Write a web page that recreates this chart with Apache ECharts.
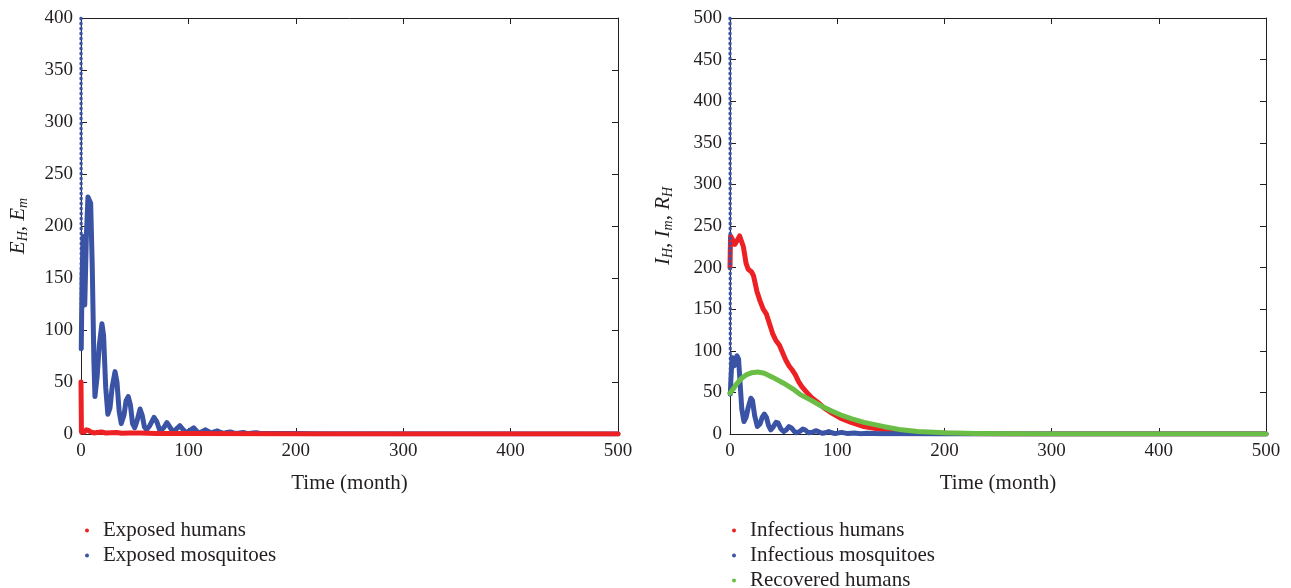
<!DOCTYPE html>
<html>
<head>
<meta charset="utf-8">
<title>Exposed and infectious classes over time</title>
<script src="https://cdn.jsdelivr.net/npm/echarts@6/dist/echarts.min.js"></script>
<style>
  html, body { margin: 0; padding: 0; background: #ffffff; }
  #chart { width: 1291px; height: 588px; }
</style>
</head>
<body>
<div id="chart"></div>
<script>
// ---- Data: [time (month), population] ----
// Left panel: exposed classes
const exposedMosquitoesInitial = [[0, 400], [0.25, 82]];
const exposedMosquitoes = [
  [0.25, 82], [1, 150], [2, 190], [2.8, 160], [3.5, 124], [5, 190], [6.5, 228], [8, 229], [9, 222],
  [10.5, 160], [12, 70], [13, 36], [15, 55], [17, 85], [19.5, 106], [21, 95], [23, 45], [25, 19],
  [27, 25], [29, 45], [31.7, 60], [33.5, 50], [35.5, 22], [37.5, 10], [40, 18], [42, 32], [44, 36],
  [46, 28], [48, 10], [50, 6], [52, 12], [55, 24], [57, 18], [59, 7], [61, 4], [64, 8], [68, 16],
  [70.5, 12], [73.5, 3], [77, 6], [80, 11], [82.5, 7], [85.5, 2], [89, 5], [92, 8], [94.5, 5],
  [97.5, 1.5], [101, 3], [105, 6], [107.5, 3], [110, 1], [113, 2.5], [116, 4], [118.5, 2.5],
  [121, 0.8], [124, 2], [127, 3], [130, 1.5], [133, 0.6], [136, 1.5], [139, 2], [142, 1],
  [145, 0.5], [148, 1], [151, 1.5], [154, 0.8], [157, 0.5], [160, 1], [163, 1.2], [166, 0.7],
  [175, 0.6], [200, 0.5], [220, 0.2], [500, 0]
];
const exposedHumans = [
  [0, 50], [0.4, 2], [1.5, 1], [3, 2], [5, 4], [7, 3.5], [9, 2], [12, 1], [15, 1.5], [19, 2],
  [23, 1], [28, 1.2], [33, 1.5], [38, 0.8], [45, 1], [55, 0.9], [70, 0.6], [100, 0.5],
  [150, 0.3], [200, 0.1], [500, 0]
];

// Right panel: infectious and recovered classes
const infectiousMosquitoesInitial = [[0, 500], [0.3, 48]];
const infectiousMosquitoes = [
  [0.3, 48], [1, 70], [2, 92], [3, 88], [4, 82], [5, 88], [6.5, 94], [8, 90], [9.5, 60], [11, 30],
  [13, 15], [15, 20], [17, 32], [19.5, 43], [21, 40], [23, 22], [25.5, 9], [28, 12], [30, 20],
  [32, 24], [34, 20], [36, 10], [38, 5], [40, 8], [43, 14], [45, 13], [47.5, 6], [50, 3],
  [52.5, 5], [55, 9], [57.5, 7], [60, 3], [62, 1.5], [65, 3], [68, 6], [70.5, 4.5], [73, 1.5],
  [77, 2], [80, 4], [83, 2.5], [86, 0.8], [89, 1.5], [92, 3], [95, 1.5], [98, 0.5], [104, 2],
  [110, 0.5], [116, 1.2], [122, 0.3], [128, 0.8], [140, 0.3], [160, 0.2], [200, 0.1], [500, 0]
];
const infectiousHumans = [
  [0, 200], [0.5, 238], [1.5, 240], [3, 232], [4.5, 228], [6.5, 232], [9, 238], [10.5, 236],
  [12.5, 225], [15, 205], [17, 198], [20, 195], [22, 190], [25, 172], [28, 160], [31, 150],
  [34, 144], [37, 132], [40, 120], [43, 112], [46, 107], [49, 98], [52, 89], [55, 82], [58, 77],
  [61, 71], [64, 63], [67, 57], [71, 51], [76, 44], [82, 38], [88, 31], [95, 25], [103, 19],
  [113, 14], [125, 9], [143, 5], [160, 2.8], [180, 1.3], [210, 0.5], [260, 0.1], [300, 0], [500, 0]
];
const recoveredHumans = [
  [0, 49], [3, 54], [6, 60], [10, 66], [15, 71], [20, 73.5], [26, 74.5], [32, 73], [40, 68],
  [50, 61], [60, 53], [66, 47], [75, 41], [86, 33], [95, 27.5], [105, 22], [113, 18.5],
  [125, 14], [144, 8.8], [160, 5], [175, 3], [200, 1.5], [230, 0.7], [260, 0.3], [300, 0.1], [500, 0]
];

// Axis ranges
const timeMax = 500, timeStep = 100;
const leftMax = 400, rightMax = 500, popStep = 50;
const leftLegend = ['Exposed humans', 'Exposed mosquitoes'];
const rightLegend = ['Infectious humans', 'Infectious mosquitoes', 'Recovered humans'];

// ---- Styling ----
const RED = '#ed2024', BLUE = '#3a53a4', GREEN = '#6abd45';
const INK = '#231f20';
const SERIF = '"Liberation Serif", "DejaVu Serif", serif';

const tickLabel = { color: INK, fontFamily: SERIF, fontSize: 19, margin: 8 };
const axisLine = { show: true, onZero: false, lineStyle: { color: INK, width: 1 } };
const axisTick = { show: true, inside: true, length: 6, lineStyle: { color: INK, width: 1 } };

function timeAxis(gridIndex, position, labelled) {
  return {
    type: 'value', gridIndex, position, min: 0, max: timeMax, interval: timeStep,
    axisLine, axisTick, splitLine: { show: false },
    axisLabel: labelled ? tickLabel : { show: false },
    name: labelled ? 'Time (month)' : '',
    nameLocation: 'middle', nameGap: 39,
    nameTextStyle: { color: INK, fontFamily: SERIF, fontSize: 21 }
  };
}

function popAxis(gridIndex, position, max, name, gap) {
  const labelled = position === 'left';
  return {
    type: 'value', gridIndex, position, min: 0, max, interval: popStep,
    axisLine, axisTick, splitLine: { show: false },
    axisLabel: labelled ? tickLabel : { show: false },
    name: labelled ? name : '',
    nameLocation: 'middle', nameGap: gap, nameRotate: 90,
    nameTextStyle: {
      color: INK, fontFamily: SERIF, fontSize: 21,
      rich: {
        i: { fontFamily: SERIF, fontStyle: 'italic', fontSize: 21, color: INK, lineHeight: 24 },
        c: { fontFamily: SERIF, fontSize: 21, color: INK, lineHeight: 24 },
        s: { fontFamily: SERIF, fontStyle: 'italic', fontSize: 14, color: INK, lineHeight: 14, verticalAlign: 'bottom' }
      }
    }
  };
}

function curve(name, data, color, xi, yi) {
  return {
    name, type: 'line', data, xAxisIndex: xi, yAxisIndex: yi,
    showSymbol: false, symbol: 'none', smooth: false,
    color, itemStyle: { color },
    lineStyle: { color, width: 5, join: 'round', cap: 'round' },
    emphasis: { disabled: true }, animation: false
  };
}

// Steep initial transient, drawn as a dotted trace
function dottedDrop(data, color, xi, yi) {
  return {
    type: 'line', data, xAxisIndex: xi, yAxisIndex: yi,
    showSymbol: false, symbol: 'none',
    lineStyle: { color, width: 3.2, type: [1, 4], cap: 'round' },
    emphasis: { disabled: true }, animation: false, z: 3
  };
}

function legend(left, names) {
  return {
    data: names, orient: 'vertical', left, top: 518, height: 90, padding: 0,
    icon: 'circle', itemWidth: 4, itemHeight: 4, itemGap: 0,
    textStyle: { color: INK, fontFamily: SERIF, fontSize: 21, lineHeight: 25, padding: [0, 0, 0, 9] },
    selectedMode: false
  };
}

const chart = echarts.init(document.getElementById('chart'), null, { renderer: 'canvas' });
chart.setOption({
  animation: false,
  backgroundColor: '#ffffff',
  grid: [
    { left: 81, top: 18, width: 537, height: 416 },
    { left: 730, top: 18, width: 536, height: 416 }
  ],
  xAxis: [
    timeAxis(0, 'bottom', true), timeAxis(0, 'top', false),
    timeAxis(1, 'bottom', true), timeAxis(1, 'top', false)
  ],
  yAxis: [
    popAxis(0, 'left', leftMax, '{i|E}{s|H}{c|, }{i|E}{s|m}', 51),
    popAxis(0, 'right', leftMax, '', 0),
    popAxis(1, 'left', rightMax, '{i|I}{s|H}{c|, }{i|I}{s|m}{c|, }{i|R}{s|H}', 55),
    popAxis(1, 'right', rightMax, '', 0)
  ],
  legend: [legend(85, leftLegend), legend(732, rightLegend)],
  series: [
    curve('Exposed mosquitoes', exposedMosquitoes, BLUE, 0, 0),
    dottedDrop(exposedMosquitoesInitial, BLUE, 0, 0),
    curve('Exposed humans', exposedHumans, RED, 0, 0),
    curve('Infectious humans', infectiousHumans, RED, 2, 2),
    curve('Infectious mosquitoes', infectiousMosquitoes, BLUE, 2, 2),
    dottedDrop(infectiousMosquitoesInitial, BLUE, 2, 2),
    curve('Recovered humans', recoveredHumans, GREEN, 2, 2)
  ]
});
</script>
</body>
</html>
